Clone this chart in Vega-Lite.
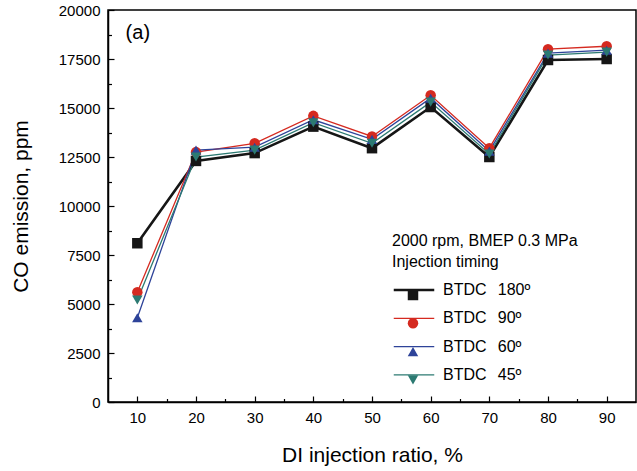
{
  "$schema": "https://vega.github.io/schema/vega-lite/v6.json",
  "width": 528,
  "height": 392,
  "autosize": "none",
  "padding": {"left": 108, "top": 10, "right": 1, "bottom": 69},
  "background": "white",
  "config": {
    "font": "Liberation Sans",
    "view": {"stroke": "black", "strokeWidth": 1.5},
    "axis": {"domainColor": "black", "domainWidth": 1.5, "tickColor": "black", "tickWidth": 1.2, "labelColor": "black", "titleColor": "black", "labelFont": "Liberation Sans", "titleFont": "Liberation Sans", "labelFontSize": 15, "titleFontSize": 21, "titleFontWeight": "normal", "grid": false}
  },
  "datasets": {
    "co": [
      {"ratio": 10, "co": 8100, "timing": "BTDC\u2002\u2009180º"},
      {"ratio": 20, "co": 12300, "timing": "BTDC\u2002\u2009180º"},
      {"ratio": 30, "co": 12700, "timing": "BTDC\u2002\u2009180º"},
      {"ratio": 40, "co": 14050, "timing": "BTDC\u2002\u2009180º"},
      {"ratio": 50, "co": 12950, "timing": "BTDC\u2002\u2009180º"},
      {"ratio": 60, "co": 15050, "timing": "BTDC\u2002\u2009180º"},
      {"ratio": 70, "co": 12500, "timing": "BTDC\u2002\u2009180º"},
      {"ratio": 80, "co": 17450, "timing": "BTDC\u2002\u2009180º"},
      {"ratio": 90, "co": 17500, "timing": "BTDC\u2002\u2009180º"},
      {"ratio": 10, "co": 5600, "timing": "BTDC\u2002\u200990º"},
      {"ratio": 20, "co": 12750, "timing": "BTDC\u2002\u200990º"},
      {"ratio": 30, "co": 13200, "timing": "BTDC\u2002\u200990º"},
      {"ratio": 40, "co": 14600, "timing": "BTDC\u2002\u200990º"},
      {"ratio": 50, "co": 13550, "timing": "BTDC\u2002\u200990º"},
      {"ratio": 60, "co": 15650, "timing": "BTDC\u2002\u200990º"},
      {"ratio": 70, "co": 12950, "timing": "BTDC\u2002\u200990º"},
      {"ratio": 80, "co": 18000, "timing": "BTDC\u2002\u200990º"},
      {"ratio": 90, "co": 18150, "timing": "BTDC\u2002\u200990º"},
      {"ratio": 10, "co": 4300, "timing": "BTDC\u2002\u200960º"},
      {"ratio": 20, "co": 12850, "timing": "BTDC\u2002\u200960º"},
      {"ratio": 30, "co": 13000, "timing": "BTDC\u2002\u200960º"},
      {"ratio": 40, "co": 14400, "timing": "BTDC\u2002\u200960º"},
      {"ratio": 50, "co": 13400, "timing": "BTDC\u2002\u200960º"},
      {"ratio": 60, "co": 15500, "timing": "BTDC\u2002\u200960º"},
      {"ratio": 70, "co": 12800, "timing": "BTDC\u2002\u200960º"},
      {"ratio": 80, "co": 17800, "timing": "BTDC\u2002\u200960º"},
      {"ratio": 90, "co": 17950, "timing": "BTDC\u2002\u200960º"},
      {"ratio": 10, "co": 5200, "timing": "BTDC\u2002\u200945º"},
      {"ratio": 20, "co": 12500, "timing": "BTDC\u2002\u200945º"},
      {"ratio": 30, "co": 12850, "timing": "BTDC\u2002\u200945º"},
      {"ratio": 40, "co": 14250, "timing": "BTDC\u2002\u200945º"},
      {"ratio": 50, "co": 13200, "timing": "BTDC\u2002\u200945º"},
      {"ratio": 60, "co": 15300, "timing": "BTDC\u2002\u200945º"},
      {"ratio": 70, "co": 12650, "timing": "BTDC\u2002\u200945º"},
      {"ratio": 80, "co": 17700, "timing": "BTDC\u2002\u200945º"},
      {"ratio": 90, "co": 17850, "timing": "BTDC\u2002\u200945º"}
    ],
    "label": [{"ratio": 8.0, "co": 18850, "text": "(a)"}]
  },
  "layer": [
    {
      "data": {"name": "co"},
      "mark": {"type": "line"},
      "encoding": {
        "x": {"field": "ratio", "type": "quantitative", "scale": {"domain": [5, 95], "nice": false}, "axis": {"values": [10, 20, 30, 40, 50, 60, 70, 80, 90], "tickSize": -6, "labelPadding": 14, "title": "DI injection ratio, %", "titlePadding": 19}},
        "y": {"field": "co", "type": "quantitative", "scale": {"domain": [0, 20000], "nice": false}, "axis": {"values": [0, 2500, 5000, 7500, 10000, 12500, 15000, 17500, 20000], "format": "d", "tickSize": -6, "labelPadding": 14, "title": "CO emission, ppm", "titlePadding": 27, "orient": "left"}},
        "color": {"field": "timing", "type": "nominal", "scale": {"domain": ["BTDC\u2002\u2009180º", "BTDC\u2002\u200990º", "BTDC\u2002\u200960º", "BTDC\u2002\u200945º"], "range": ["#161616", "#d52a20", "#2e4399", "#2c7a72"]},
          "legend": {"orient": "none", "legendX": 284, "legendY": 222.5, "title": ["2000 rpm, BMEP 0.3 MPa", "Injection timing"], "titleLimit": 400, "titleFontSize": 16, "titleFontWeight": "normal", "titleColor": "black", "titleLineHeight": 21, "titlePadding": 10.5, "labelFontSize": 16, "labelColor": "black", "labelOffset": 7, "labelLimit": 300, "symbolType": "stroke", "symbolSize": 1640, "clipHeight": 20, "rowPadding": 8.3}},
        "strokeWidth": {"field": "timing", "type": "nominal", "scale": {"type": "ordinal", "domain": ["BTDC\u2002\u2009180º", "BTDC\u2002\u200990º", "BTDC\u2002\u200960º", "BTDC\u2002\u200945º"], "range": [2.6, 1.3, 1.3, 1.3]}}
      }
    },
    {
      "data": {"name": "co"},
      "mark": {"type": "point", "filled": true, "opacity": 1, "size": 110},
      "encoding": {
        "x": {"field": "ratio", "type": "quantitative", "axis": null},
        "y": {"field": "co", "type": "quantitative", "axis": null},
        "color": {"field": "timing", "type": "nominal", "scale": {"domain": ["BTDC\u2002\u2009180º", "BTDC\u2002\u200990º", "BTDC\u2002\u200960º", "BTDC\u2002\u200945º"], "range": ["#161616", "#d52a20", "#2e4399", "#2c7a72"]},
          "legend": {"orient": "none", "legendX": 299, "legendY": 275, "title": null, "labelExpr": "''", "symbolSize": 110, "clipHeight": 20, "rowPadding": 8.3, "symbolOpacity": 1}},
        "shape": {"field": "timing", "type": "nominal", "scale": {"domain": ["BTDC\u2002\u2009180º", "BTDC\u2002\u200990º", "BTDC\u2002\u200960º", "BTDC\u2002\u200945º"], "range": ["square", "circle", "triangle-up", "triangle-down"]}}
      }
    },
    {
      "data": {"name": "co"},
      "mark": {"type": "point", "opacity": 0},
      "encoding": {
        "x": {"field": "ratio", "type": "quantitative", "axis": {"values": [15, 25, 35, 45, 55, 65, 75, 85], "tickSize": -3.5, "labels": false, "domain": false, "title": null, "orient": "bottom"}},
        "y": {"field": "co", "type": "quantitative", "axis": {"values": [1250, 3750, 6250, 8750, 11250, 13750, 16250, 18750], "tickSize": -3.5, "labels": false, "domain": false, "title": null, "orient": "left"}}
      }
    },
    {
      "data": {"name": "label"},
      "mark": {"type": "text", "fontSize": 20, "align": "left", "baseline": "middle", "color": "black"},
      "encoding": {
        "x": {"field": "ratio", "type": "quantitative", "axis": null},
        "y": {"field": "co", "type": "quantitative", "axis": null},
        "text": {"field": "text"}
      }
    }
  ],
  "resolve": {"scale": {"color": "independent", "shape": "independent", "strokeWidth": "independent"}, "legend": {"color": "independent"}, "axis": {"x": "independent", "y": "independent"}}
}
